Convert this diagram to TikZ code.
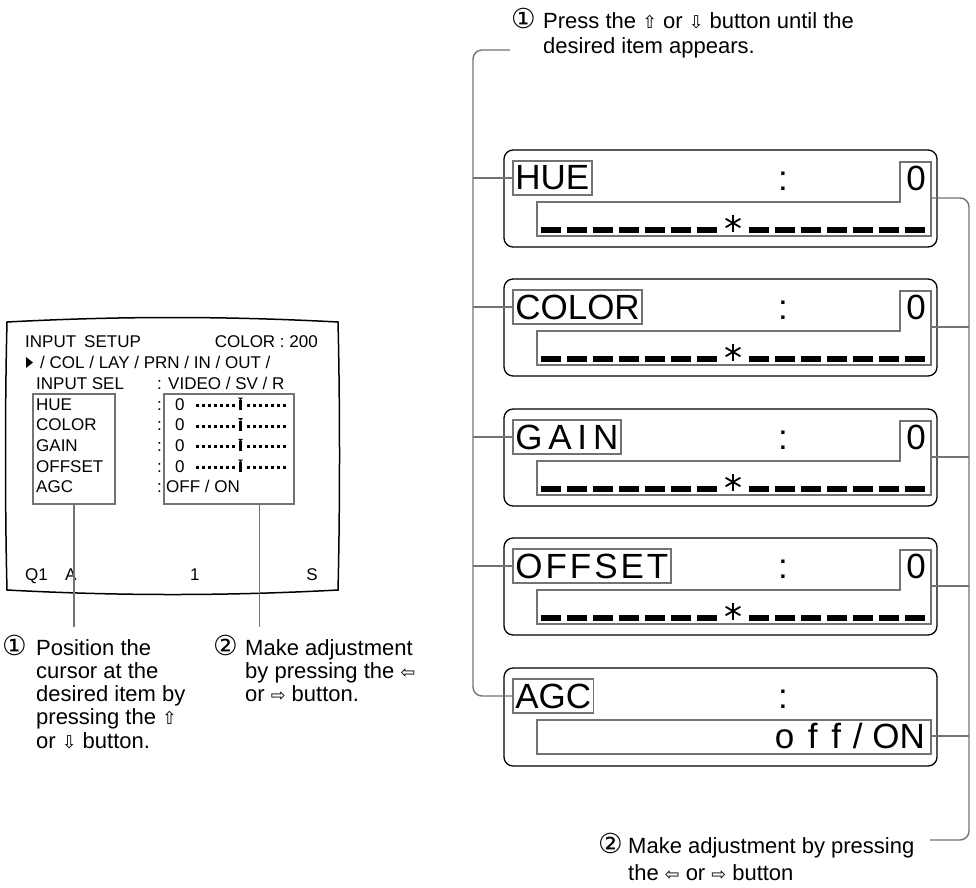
\documentclass[tikz,border=0pt]{standalone}
\usepackage{fontspec}
\setmainfont{Liberation Sans}
\newfontfamily\symfont{DejaVu Sans}
\usetikzlibrary{calc,positioning}

\newcommand{\fsz}[2]{\fontsize{#1}{#2}\selectfont}
\newcommand{\uparr}{{\symfont\scalebox{.8}{⇧}}}
\newcommand{\dnarr}{{\symfont\scalebox{.8}{⇩}}}
\newcommand{\lfarr}{{\symfont\scalebox{.8}{⇦}}}
\newcommand{\rtarr}{{\symfont\scalebox{.8}{⇨}}}
\newcommand{\circnum}[1]{{\symfont\scalebox{1.25}{#1}}}
\newcommand{\lstack}[1]{\vtop{\halign{##\hfil\cr#1\crcr}}}

\tikzset{
  panel/.style={draw, line width=1.3pt, rounded corners=9pt},
  lblbox/.style={draw=black!55, line width=1.6pt, inner xsep=2.5pt, inner ysep=0pt,
    minimum height=34pt, font=\fsz{35}{38}},
  valbox/.style={draw=black!55, line width=1.6pt},
  leader/.style={draw=black!55, line width=1.4pt},
  scr/.style={anchor=base west, inner sep=0pt, font=\fsz{17}{20}},
  big/.style={anchor=base, inner sep=0pt, font=\fsz{35}{38}},
  capt/.style={anchor=base west, inner sep=0pt, font=\fsz{22}{23.3}},
}

\begin{document}
\begin{tikzpicture}[x=1pt,y=-1pt]
  \useasboundingbox (0,0) rectangle (976,887);

  % screen on the left
  \draw[line width=1.5pt] (7,322) .. controls (120,316) and (225,316) .. (338,322)
    .. controls (340,400) and (340,510) .. (338,590)
    .. controls (225,596) and (120,596) .. (7,590)
    .. controls (5,510) and (5,400) .. (7,322) -- cycle;
  \node[scr] (t1) at (25,347) {INPUT\hspace{8pt}SETUP};
  \node[scr,anchor=base east] (t2) at (318,347) {COLOR : 200};
  \fill (26,357) -- (33,362.5) -- (26,368) -- cycle;
  \node[scr] (t3) at (40,368) {/ COL / LAY / PRN / IN / OUT /};
  \node[scr] (t4) at (36,389) {INPUT SEL};
  \node[scr] (t5) at (157,389) {: VIDEO / SV / R};
  \node[valbox,minimum width=82pt,minimum height=110pt,anchor=north west] (itembox) at (32,393) {};
  \node[valbox,minimum width=130pt,minimum height=110pt,anchor=north west] (setbox) at (163,393) {};
  \foreach \nm [count=\i from 0] in {HUE,COLOR,GAIN,OFFSET,AGC}
    \node[scr] (it\i) at (36,410+20.7*\i) {\nm};
  \foreach \i in {0,...,4}
    \node[scr] (co\i) at (157,410+20.7*\i) {:};
  \foreach \i in {0,...,3}{
    \node[scr] (z\i) at (175,410+20.7*\i) {0};
    \foreach \j in {0,...,6}{
      \fill (196+\j*6,404+20.7*\i) rectangle ++(3,3);
      \fill (247+\j*6,404+20.7*\i) rectangle ++(3,3);
    }
    \fill (239,410+20.7*\i) rectangle ++(3,-10);
    \fill (238,397.5+20.7*\i) -- (243,397.5+20.7*\i) -- (240.5,400+20.7*\i) -- cycle;
  }
  \node[scr] (agcs) at (166,492.8) {OFF / ON};
  \node[scr] (b1) at (25,580) {Q1};
  \node[scr] (b2) at (65,580) {A};
  \node[scr] (b3) at (190,580) {1};
  \node[scr,anchor=base east] (b4) at (318,580) {S};

  % leaders and notes under the screen
  \draw[leader] (itembox.south) -- ++(0,122);
  \draw[leader] ([xshift=-35pt]setbox.south east) -- ++(0,122);
  \node[capt] (n1) at (2,655) {\circnum{①}};
  \node[capt] (c1) at (36,655) {\lstack{Position the\cr cursor at the\cr desired item by\cr
    pressing the \uparr\cr or \dnarr\ button.}};
  \node[capt] (n2) at (213,655) {\circnum{②}};
  \node[capt] (c2) at (245,655) {\lstack{Make adjustment\cr by pressing the \lfarr\cr
    or \rtarr\ button.}};

  % notes on the right
  \node[capt] (n3) at (511,28) {\circnum{①}};
  \node[capt,font=\fsz{22}{25}] (capA) at (543,28) {\lstack{Press the \uparr\ or \dnarr\ button until the\cr
    desired item appears.}};
  \node[capt] (n4) at (598,853) {\circnum{②}};
  \node[capt,font=\fsz{22}{27}] (capB) at (628,853) {\lstack{Make adjustment by pressing\cr
    the \lfarr\ or \rtarr\ button}};
  \coordinate (capA-end) at (510,50);
  \coordinate (capB-end) at (930,840);
  \coordinate (busL) at (473,0);
  \coordinate (busR) at (969,0);

  % display panels
  \foreach \nm/\lbl/\t in {hue/HUE/150, color/COLOR/279,
      gain/{G\kern5.8pt A\kern5.8pt I\kern5.8pt N}/409,
      offset/{O\kern3pt F\kern3pt F\kern3pt S\kern3pt E\kern3pt T}/538}{
    \draw[panel] (504,\t) rectangle (937,\t+97);
    \node[lblbox,anchor=west] (\nm) at (512,\t+28) {\lbl};
    \node[big] (\nm-c) at (783,\t+40) {:};
    \node[big] (\nm-z) at (916,\t+40) {0};
    \draw[valbox] (900,\t+12) -- (931,\t+12) -- (931,\t+86) -- (537,\t+86)
      -- (537,\t+52) -- (900,\t+52) -- cycle;
    \coordinate (\nm-v) at (931,\t+48);
    \foreach \j in {0,...,6}{
      \fill (541+\j*26,\t+77) rectangle ++(20,5.5);
      \fill (749+\j*26,\t+77) rectangle ++(20,5.5);
    }
    \foreach \a in {90,30,150}
      \draw[line width=1.8pt] (733,\t+73) ++(\a:8.5) -- ++(\a+180:17);
  }
  \draw[panel] (504,668) rectangle (937,766);
  \node[lblbox,anchor=west] (agc) at (512,696) {AGC};
  \node[big] (agc-c) at (783,708) {:};
  \draw[valbox] (537,720) rectangle (931,754);
  \node[big,anchor=base east] (agc-z) at (925,748) {o\kern4pt{} f\kern4pt{} f\kern2pt{} / ON};
  \coordinate (agc-v) at (931,736);

  % connectors
  \draw[leader,rounded corners=9pt] (capA-end) -| (busL |- agc.west) -- (agc.west);
  \foreach \nm in {hue,color,gain,offset}
    \draw[leader] (busL |- \nm.west) -- (\nm.west);
  \draw[leader,rounded corners=9pt] (hue-v) -| (busR |- capB-end) -- (capB-end);
  \foreach \nm in {color,gain,offset,agc}
    \draw[leader] (\nm-v) -- (busR |- \nm-v);
\end{tikzpicture}
\end{document}
